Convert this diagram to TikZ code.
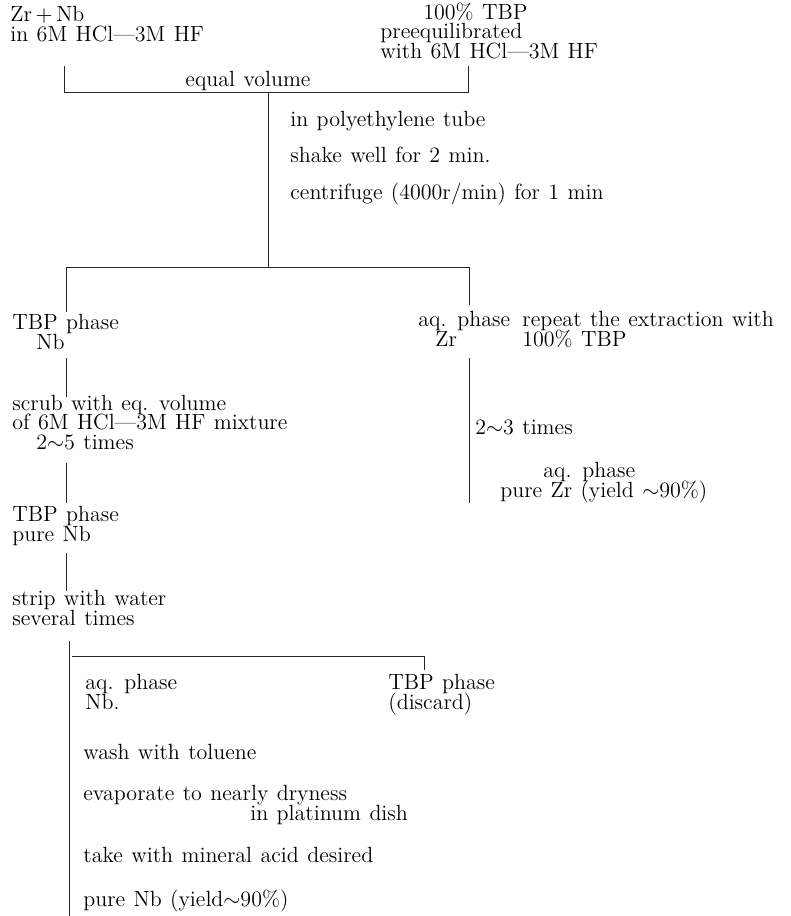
\documentclass[tikz,border=0pt]{standalone}
\usepackage{tikz}
\newcommand{\flowfont}{\fontsize{11}{9.6}\selectfont\spaceskip=4.2pt plus 1pt\relax\lineskiplimit=-20pt\relax}
\tikzset{txt/.style={inner sep=0pt,anchor=base west,align=left,font=\flowfont},
flow/.style={line width=.5pt,black!85}}
\newcommand{\tld}{$\sim$}

\begin{document}
\begin{tikzpicture}[x=.5pt,y=-.5pt]
\useasboundingbox (0,0) rectangle (791,916);
% starting solutions (multi-line nodes sit on their last line)
\node[txt] (feed) at (10,41) {Zr\,$+$\,Nb\\in 6M HCl---3M HF};
\node[txt] (solv) at (380,58) {\hspace*{21.5pt}100\% TBP\\preequilibrated\\with 6M HCl---3M HF};
\node[txt,anchor=base] (eqv) at (248,86) {equal volume};
\coordinate (fdtop) at (64,66); \coordinate (fdbar) at (64,92);
\coordinate (svtop) at (468,66); \coordinate (svbar) at (468,92);
\draw[flow] (fdtop) -- (fdbar) -- (svbar) -- (svtop);
% extraction
\node[txt] (tube) at (290,126) {in polyethylene tube};
\node[txt] (shake) at (290,162) {shake well for 2 min.};
\node[txt] (cent) at (290,199) {centrifuge (4000r/min) for 1 min};
\coordinate (exA) at (268,92); \coordinate (exB) at (268,267);
\draw[flow] (exA) -- (exB);
\coordinate (orgA) at (66,312); \coordinate (orgB) at (66,267);
\coordinate (aqB) at (469,267); \coordinate (aqA) at (469,305);
\draw[flow] (orgA) -- (orgB) -- (aqB) -- (aqA);
% Nb branch
\node[txt] (tbpNb) at (12,349) {TBP phase\\\hspace*{12pt}Nb};
\node[txt] (scrub) at (12,449) {scrub with eq. volume\\of 6M HCl---3M HF mixture\\\hspace*{12pt}2\tld5 times};
\node[txt] (pureNb) at (12,541) {TBP phase\\pure Nb};
\node[txt] (strip) at (12,625) {strip with water\\several times};
\coordinate (s1a) at (66,358); \coordinate (s1b) at (66,397);
\coordinate (s2a) at (66,463); \coordinate (s2b) at (66,503);
\coordinate (s3a) at (66,553); \coordinate (s3b) at (66,591);
\draw[flow] (s1a) -- (s1b) (s2a) -- (s2b) (s3a) -- (s3b);
% Zr branch
\node[txt] (aqZr) at (418,346) {aq. phase\\\hspace*{8.5pt}Zr};
\node[txt] (rep) at (522,346) {repeat the extraction with\\100\% TBP};
\node[txt] (times) at (475,434) {2\tld3 times};
\node[txt] (pureZr) at (500,497) {\hspace*{21.5pt}aq. phase\\pure Zr (yield \tld90\%)};
\coordinate (zrA) at (469,358); \coordinate (zrB) at (469,503);
\draw[flow] (zrA) -- (zrB);
% stripping
\coordinate (stA) at (69,641); \coordinate (stB) at (69,916);
\draw[flow] (stA) -- (stB);
\coordinate (barA) at (72,656); \coordinate (barB) at (424,656); \coordinate (barC) at (424,670);
\draw[flow] (barA) -- (barB) -- (barC);
\node[txt] (aqNb) at (85,709) {aq. phase\\Nb.};
\node[txt] (disc) at (388,709) {TBP phase\\(discard)};
\node[txt] (wash) at (83,759) {wash with toluene};
\node[txt] (evap) at (83,820) {evaporate to nearly dryness\\\hspace*{83.5pt}in platinum dish};
\node[txt] (take) at (83,862) {take with mineral acid desired};
\node[txt] (final) at (83,906) {pure Nb (yield\tld90\%)};
\end{tikzpicture}
\end{document}
